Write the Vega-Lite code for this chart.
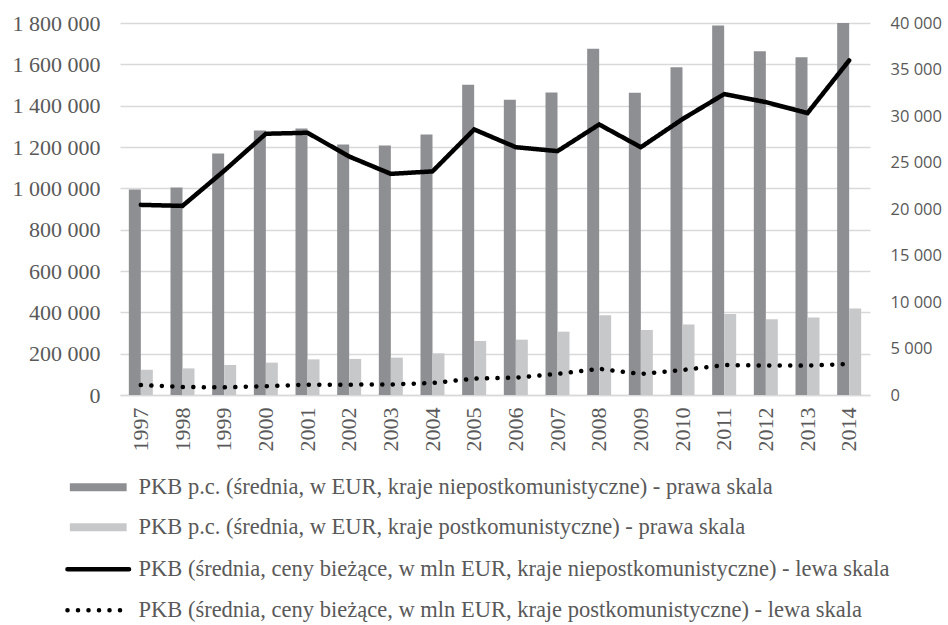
{
  "$schema": "https://vega.github.io/schema/vega-lite/v6.json",
  "width": 750,
  "height": 372,
  "autosize": "none",
  "padding": {"left": 120, "top": 23, "right": 78, "bottom": 230},
  "background": "white",
  "config": {
    "view": {"stroke": null},
    "locale": {"number": {"decimal": ",", "thousands": " ", "grouping": [3], "currency": ["", " zł"]}},
    "legend": {"labelFont": "Liberation Serif", "labelFontSize": 22.5, "labelColor": "#595959", "labelLimit": 0, "title": null}
  },
  "datasets": {
    "bars": [
      {"year": "1997", "series": "PKB p.c. (średnia, w EUR, kraje niepostkomunistyczne) - prawa skala", "value": 22100},
      {"year": "1998", "series": "PKB p.c. (średnia, w EUR, kraje niepostkomunistyczne) - prawa skala", "value": 22300},
      {"year": "1999", "series": "PKB p.c. (średnia, w EUR, kraje niepostkomunistyczne) - prawa skala", "value": 25970},
      {"year": "2000", "series": "PKB p.c. (średnia, w EUR, kraje niepostkomunistyczne) - prawa skala", "value": 28450},
      {"year": "2001", "series": "PKB p.c. (średnia, w EUR, kraje niepostkomunistyczne) - prawa skala", "value": 28660},
      {"year": "2002", "series": "PKB p.c. (średnia, w EUR, kraje niepostkomunistyczne) - prawa skala", "value": 26940},
      {"year": "2003", "series": "PKB p.c. (średnia, w EUR, kraje niepostkomunistyczne) - prawa skala", "value": 26830},
      {"year": "2004", "series": "PKB p.c. (średnia, w EUR, kraje niepostkomunistyczne) - prawa skala", "value": 28020},
      {"year": "2005", "series": "PKB p.c. (średnia, w EUR, kraje niepostkomunistyczne) - prawa skala", "value": 33370},
      {"year": "2006", "series": "PKB p.c. (średnia, w EUR, kraje niepostkomunistyczne) - prawa skala", "value": 31750},
      {"year": "2007", "series": "PKB p.c. (średnia, w EUR, kraje niepostkomunistyczne) - prawa skala", "value": 32540},
      {"year": "2008", "series": "PKB p.c. (średnia, w EUR, kraje niepostkomunistyczne) - prawa skala", "value": 37240},
      {"year": "2009", "series": "PKB p.c. (średnia, w EUR, kraje niepostkomunistyczne) - prawa skala", "value": 32510},
      {"year": "2010", "series": "PKB p.c. (średnia, w EUR, kraje niepostkomunistyczne) - prawa skala", "value": 35230},
      {"year": "2011", "series": "PKB p.c. (średnia, w EUR, kraje niepostkomunistyczne) - prawa skala", "value": 39720},
      {"year": "2012", "series": "PKB p.c. (średnia, w EUR, kraje niepostkomunistyczne) - prawa skala", "value": 36950},
      {"year": "2013", "series": "PKB p.c. (średnia, w EUR, kraje niepostkomunistyczne) - prawa skala", "value": 36310},
      {"year": "2014", "series": "PKB p.c. (średnia, w EUR, kraje niepostkomunistyczne) - prawa skala", "value": 40000},
      {"year": "1997", "series": "PKB p.c. (średnia, w EUR, kraje postkomunistyczne) - prawa skala", "value": 2720},
      {"year": "1998", "series": "PKB p.c. (średnia, w EUR, kraje postkomunistyczne) - prawa skala", "value": 2860},
      {"year": "1999", "series": "PKB p.c. (średnia, w EUR, kraje postkomunistyczne) - prawa skala", "value": 3230},
      {"year": "2000", "series": "PKB p.c. (średnia, w EUR, kraje postkomunistyczne) - prawa skala", "value": 3480},
      {"year": "2001", "series": "PKB p.c. (średnia, w EUR, kraje postkomunistyczne) - prawa skala", "value": 3830},
      {"year": "2002", "series": "PKB p.c. (średnia, w EUR, kraje postkomunistyczne) - prawa skala", "value": 3880},
      {"year": "2003", "series": "PKB p.c. (średnia, w EUR, kraje postkomunistyczne) - prawa skala", "value": 4020},
      {"year": "2004", "series": "PKB p.c. (średnia, w EUR, kraje postkomunistyczne) - prawa skala", "value": 4480},
      {"year": "2005", "series": "PKB p.c. (średnia, w EUR, kraje postkomunistyczne) - prawa skala", "value": 5810},
      {"year": "2006", "series": "PKB p.c. (średnia, w EUR, kraje postkomunistyczne) - prawa skala", "value": 5950},
      {"year": "2007", "series": "PKB p.c. (średnia, w EUR, kraje postkomunistyczne) - prawa skala", "value": 6810},
      {"year": "2008", "series": "PKB p.c. (średnia, w EUR, kraje postkomunistyczne) - prawa skala", "value": 8570},
      {"year": "2009", "series": "PKB p.c. (średnia, w EUR, kraje postkomunistyczne) - prawa skala", "value": 7000},
      {"year": "2010", "series": "PKB p.c. (średnia, w EUR, kraje postkomunistyczne) - prawa skala", "value": 7570},
      {"year": "2011", "series": "PKB p.c. (średnia, w EUR, kraje postkomunistyczne) - prawa skala", "value": 8720},
      {"year": "2012", "series": "PKB p.c. (średnia, w EUR, kraje postkomunistyczne) - prawa skala", "value": 8140},
      {"year": "2013", "series": "PKB p.c. (średnia, w EUR, kraje postkomunistyczne) - prawa skala", "value": 8320},
      {"year": "2014", "series": "PKB p.c. (średnia, w EUR, kraje postkomunistyczne) - prawa skala", "value": 9290}
    ],
    "lines": [
      {"year": "1997", "series": "PKB (średnia, ceny bieżące, w mln EUR, kraje niepostkomunistyczne) - lewa skala", "value": 920000},
      {"year": "1998", "series": "PKB (średnia, ceny bieżące, w mln EUR, kraje niepostkomunistyczne) - lewa skala", "value": 915000},
      {"year": "1999", "series": "PKB (średnia, ceny bieżące, w mln EUR, kraje niepostkomunistyczne) - lewa skala", "value": 1085000},
      {"year": "2000", "series": "PKB (średnia, ceny bieżące, w mln EUR, kraje niepostkomunistyczne) - lewa skala", "value": 1264000},
      {"year": "2001", "series": "PKB (średnia, ceny bieżące, w mln EUR, kraje niepostkomunistyczne) - lewa skala", "value": 1269000},
      {"year": "2002", "series": "PKB (średnia, ceny bieżące, w mln EUR, kraje niepostkomunistyczne) - lewa skala", "value": 1154000},
      {"year": "2003", "series": "PKB (średnia, ceny bieżące, w mln EUR, kraje niepostkomunistyczne) - lewa skala", "value": 1070000},
      {"year": "2004", "series": "PKB (średnia, ceny bieżące, w mln EUR, kraje niepostkomunistyczne) - lewa skala", "value": 1082000},
      {"year": "2005", "series": "PKB (średnia, ceny bieżące, w mln EUR, kraje niepostkomunistyczne) - lewa skala", "value": 1285000},
      {"year": "2006", "series": "PKB (średnia, ceny bieżące, w mln EUR, kraje niepostkomunistyczne) - lewa skala", "value": 1199000},
      {"year": "2007", "series": "PKB (średnia, ceny bieżące, w mln EUR, kraje niepostkomunistyczne) - lewa skala", "value": 1180000},
      {"year": "2008", "series": "PKB (średnia, ceny bieżące, w mln EUR, kraje niepostkomunistyczne) - lewa skala", "value": 1309000},
      {"year": "2009", "series": "PKB (średnia, ceny bieżące, w mln EUR, kraje niepostkomunistyczne) - lewa skala", "value": 1199000},
      {"year": "2010", "series": "PKB (średnia, ceny bieżące, w mln EUR, kraje niepostkomunistyczne) - lewa skala", "value": 1335000},
      {"year": "2011", "series": "PKB (średnia, ceny bieżące, w mln EUR, kraje niepostkomunistyczne) - lewa skala", "value": 1456000},
      {"year": "2012", "series": "PKB (średnia, ceny bieżące, w mln EUR, kraje niepostkomunistyczne) - lewa skala", "value": 1417000},
      {"year": "2013", "series": "PKB (średnia, ceny bieżące, w mln EUR, kraje niepostkomunistyczne) - lewa skala", "value": 1364000},
      {"year": "2014", "series": "PKB (średnia, ceny bieżące, w mln EUR, kraje niepostkomunistyczne) - lewa skala", "value": 1619000},
      {"year": "1997", "series": "PKB (średnia, ceny bieżące, w mln EUR, kraje postkomunistyczne) - lewa skala", "value": 48000},
      {"year": "1998", "series": "PKB (średnia, ceny bieżące, w mln EUR, kraje postkomunistyczne) - lewa skala", "value": 39000},
      {"year": "1999", "series": "PKB (średnia, ceny bieżące, w mln EUR, kraje postkomunistyczne) - lewa skala", "value": 37000},
      {"year": "2000", "series": "PKB (średnia, ceny bieżące, w mln EUR, kraje postkomunistyczne) - lewa skala", "value": 42000},
      {"year": "2001", "series": "PKB (średnia, ceny bieżące, w mln EUR, kraje postkomunistyczne) - lewa skala", "value": 50000},
      {"year": "2002", "series": "PKB (średnia, ceny bieżące, w mln EUR, kraje postkomunistyczne) - lewa skala", "value": 50000},
      {"year": "2003", "series": "PKB (średnia, ceny bieżące, w mln EUR, kraje postkomunistyczne) - lewa skala", "value": 51000},
      {"year": "2004", "series": "PKB (średnia, ceny bieżące, w mln EUR, kraje postkomunistyczne) - lewa skala", "value": 58000},
      {"year": "2005", "series": "PKB (średnia, ceny bieżące, w mln EUR, kraje postkomunistyczne) - lewa skala", "value": 79000},
      {"year": "2006", "series": "PKB (średnia, ceny bieżące, w mln EUR, kraje postkomunistyczne) - lewa skala", "value": 84000},
      {"year": "2007", "series": "PKB (średnia, ceny bieżące, w mln EUR, kraje postkomunistyczne) - lewa skala", "value": 102000},
      {"year": "2008", "series": "PKB (średnia, ceny bieżące, w mln EUR, kraje postkomunistyczne) - lewa skala", "value": 127000},
      {"year": "2009", "series": "PKB (średnia, ceny bieżące, w mln EUR, kraje postkomunistyczne) - lewa skala", "value": 102000},
      {"year": "2010", "series": "PKB (średnia, ceny bieżące, w mln EUR, kraje postkomunistyczne) - lewa skala", "value": 121000},
      {"year": "2011", "series": "PKB (średnia, ceny bieżące, w mln EUR, kraje postkomunistyczne) - lewa skala", "value": 145000},
      {"year": "2012", "series": "PKB (średnia, ceny bieżące, w mln EUR, kraje postkomunistyczne) - lewa skala", "value": 143000},
      {"year": "2013", "series": "PKB (średnia, ceny bieżące, w mln EUR, kraje postkomunistyczne) - lewa skala", "value": 142000},
      {"year": "2014", "series": "PKB (średnia, ceny bieżące, w mln EUR, kraje postkomunistyczne) - lewa skala", "value": 150000}
    ]
  },
  "layer": [
    {
      "data": {"name": "bars"},
      "mark": {"type": "bar"},
      "encoding": {
        "x": {
          "field": "year", "type": "ordinal",
          "scale": {"type": "band", "paddingInner": 0.424, "paddingOuter": 0.212},
          "axis": {"title": null, "labelAngle": -90, "labelFont": "Liberation Serif", "labelFontSize": 22, "labelColor": "#595959", "labelPadding": 12, "ticks": false, "domain": true, "domainColor": "#d9d9d9", "domainWidth": 1.5, "grid": false}
        },
        "xOffset": {
          "field": "series", "type": "nominal",
          "scale": {"domain": ["PKB p.c. (średnia, w EUR, kraje niepostkomunistyczne) - prawa skala", "PKB p.c. (średnia, w EUR, kraje postkomunistyczne) - prawa skala"], "paddingInner": 0, "paddingOuter": 0}
        },
        "y": {
          "field": "value", "type": "quantitative",
          "scale": {"domain": [0, 40000], "nice": false},
          "axis": {"orient": "right", "title": null, "values": [0, 5000, 10000, 15000, 20000, 25000, 30000, 35000, 40000], "format": ",d", "labelFont": "Open Sans", "labelFontSize": 16.5, "labelColor": "#595959", "labelPadding": 20, "ticks": false, "domain": false, "grid": false}
        },
        "fill": {
          "field": "series", "type": "nominal",
          "scale": {"domain": ["PKB p.c. (średnia, w EUR, kraje niepostkomunistyczne) - prawa skala", "PKB p.c. (średnia, w EUR, kraje postkomunistyczne) - prawa skala"], "range": ["#8e8f93", "#c7c8ca"]},
          "legend": {"orient": "none", "legendX": -33, "legendY": 453, "direction": "vertical", "symbolType": "M-7.1,-1H7.1V1H-7.1Z", "symbolSize": 64, "symbolStrokeWidth": 0, "labelOffset": 29, "rowPadding": 17}
        }
      }
    },
    {
      "data": {"name": "lines"},
      "mark": {"type": "line", "color": "black", "strokeWidth": 4.5, "strokeCap": "round", "strokeJoin": "miter"},
      "encoding": {
        "x": {"field": "year", "type": "ordinal"},
        "y": {
          "field": "value", "type": "quantitative",
          "scale": {"domain": [0, 1800000], "nice": false},
          "axis": {"orient": "left", "title": null, "values": [0, 200000, 400000, 600000, 800000, 1000000, 1200000, 1400000, 1600000, 1800000], "format": ",d", "labelFont": "Liberation Serif", "labelFontSize": 22, "labelColor": "#595959", "labelPadding": 20, "ticks": false, "domain": false, "grid": true, "gridColor": "#d9d9d9", "gridWidth": 1.5}
        },
        "strokeDash": {
          "field": "series", "type": "nominal",
          "scale": {"domain": ["PKB (średnia, ceny bieżące, w mln EUR, kraje niepostkomunistyczne) - lewa skala", "PKB (średnia, ceny bieżące, w mln EUR, kraje postkomunistyczne) - lewa skala"], "range": [[1, 0], [0.1, 10.4]]},
          "legend": {"orient": "none", "legendX": -33, "legendY": 535, "direction": "vertical", "symbolType": "M-7.7,0H7.7", "symbolSize": 64, "symbolStrokeWidth": 4.5, "symbolStrokeColor": "black", "symbolFillColor": "transparent", "labelOffset": 29, "rowPadding": 18, "encode": {"symbols": {"update": {"strokeCap": {"value": "round"}}}}}
        }
      }
    }
  ],
  "resolve": {"scale": {"y": "independent"}}
}
